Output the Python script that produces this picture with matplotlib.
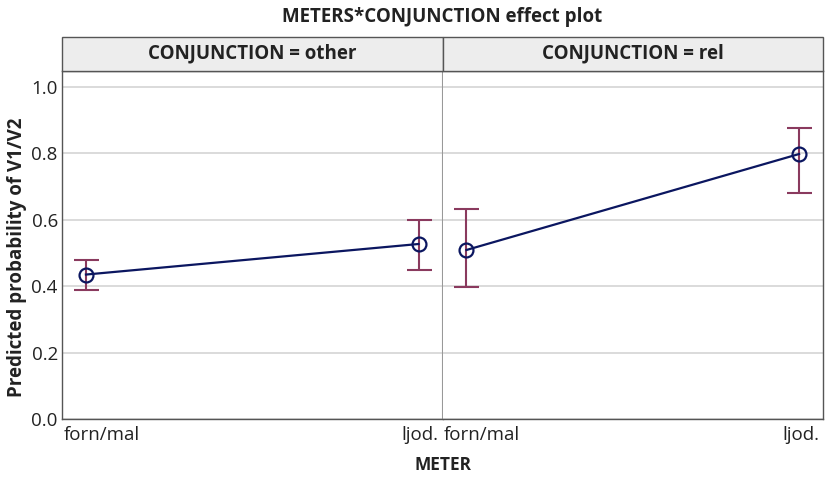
import numpy as np
import matplotlib
matplotlib.use("Agg")
import matplotlib.pyplot as plt
from matplotlib.patches import Rectangle

plt.rcParams['font.family'] = ['Open Sans', 'DejaVu Sans']

# data
meter = ["forn/mal", "ljod."]
panels = ["CONJUNCTION = other", "CONJUNCTION = rel"]
fit = [[0.435, 0.527], [0.509, 0.798]]
lower = [[0.389, 0.449], [0.398, 0.681]]
upper = [[0.479, 0.599], [0.633, 0.877]]
yticks = [0.0, 0.2, 0.4, 0.6, 0.8, 1.0]

line_col = "#0b1660"
err_col = "#8a3a5e"
edge_col = "#555555"
txt_col = "#222222"

fig = plt.figure(figsize=(8.25, 4.79), dpi=100)
left, right = 62 / 825, 823 / 825
bottom, top = 1 - 419 / 479, 1 - 71 / 479
strip_top = 1 - 37 / 479
w = (right - left) / 2

xlo, xhi = -0.072, 1.072
for i in range(2):
    ax = fig.add_axes([left + i * w, bottom, w, top - bottom])
    x = np.arange(len(meter))
    f = np.array(fit[i])
    lo = np.array(lower[i])
    hi = np.array(upper[i])
    ax.errorbar(x, f, yerr=[f - lo, hi - f], fmt="none", ecolor=err_col,
                elinewidth=1.5, capsize=9, capthick=1.5, zorder=2)
    ax.plot(x, f, color=line_col, lw=1.6, zorder=3)
    ax.plot(x, f, "o", ms=10, mfc="none", mec=line_col, mew=1.6, zorder=4)
    ax.set_xlim(xlo, xhi)
    ax.set_ylim(0, 1.048)
    ax.set_yticks(yticks)
    ax.grid(axis="y", color="#d4d4d4", lw=1.2)
    ax.set_axisbelow(True)
    # category labels sit at the panel edges
    ax.set_xticks([xlo + 0.004, xhi - 0.012])
    ax.set_xticklabels(meter, fontsize=13.5, color=txt_col)
    labs = ax.get_xticklabels()
    labs[0].set_ha("left")
    labs[1].set_ha("right")
    ax.tick_params(axis="x", length=0, pad=5)
    ax.tick_params(axis="y", length=0, labelsize=13.5,
                   labelcolor=txt_col, pad=3)
    if i == 0:
        ax.set_yticklabels(["%.1f" % t for t in yticks])
    else:
        ax.tick_params(axis="y", left=False, labelleft=False)
    for s in ax.spines.values():
        s.set_color(edge_col)
        s.set_linewidth(1.0)
    if i == 0:
        ax.spines["right"].set_color("#999999")
        ax.spines["right"].set_linewidth(1.5)
    else:
        ax.spines["left"].set_visible(False)

    # strip
    fig.patches.append(Rectangle((left + i * w, top), w, strip_top - top,
                                 transform=fig.transFigure, facecolor="#ededed",
                                 edgecolor=edge_col, lw=1.0))
    fig.text(left + i * w + w / 2, (top + strip_top) / 2 + 0.002, panels[i],
             ha="center", va="center", fontsize=13.5, fontweight="bold",
             color=txt_col)

fig.text((left + right) / 2, 1 - 17 / 479, "METERS*CONJUNCTION effect plot",
         ha="center", va="center", fontsize=13.5, fontweight="bold", color=txt_col)
fig.text((left + right) / 2, 1 - 465 / 479, "METER",
         ha="center", va="center", fontsize=12.5, fontweight="bold", color=txt_col)
fig.text(17 / 825, 1 - 257 / 479, "Predicted probability of V1/V2",
         ha="center", va="center", rotation=90, fontsize=13.5, fontweight="bold",
         color=txt_col)

fig.savefig("out.png", dpi=100)
